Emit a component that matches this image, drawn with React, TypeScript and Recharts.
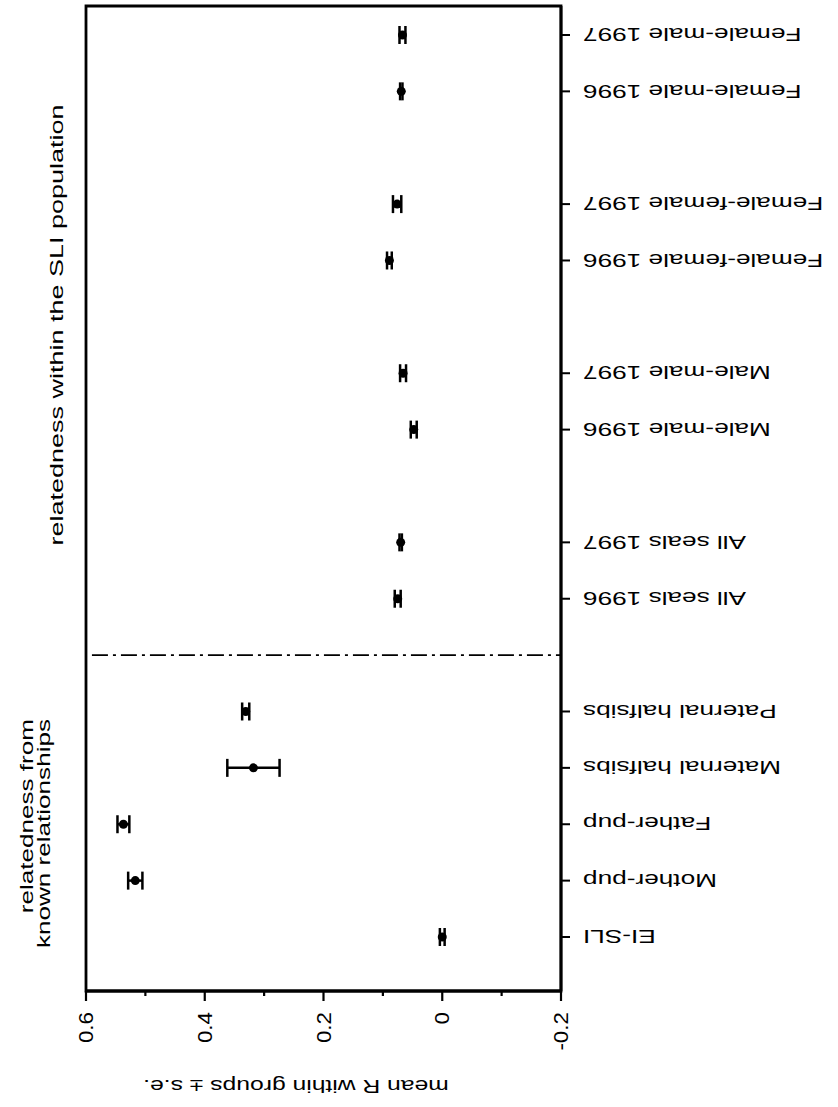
import React from 'react';
import { ScatterChart, Scatter, XAxis, YAxis, ErrorBar, ReferenceLine, ReferenceArea } from 'recharts';

// Categories from top to bottom ("" = empty slot; slot 11 holds the dash-dot divider)
const categories: string[] = [
  'Female-male 1997', 'Female-male 1996', '',
  'Female-female 1997', 'Female-female 1996', '',
  'Male-male 1997', 'Male-male 1996', '',
  'All seals 1997', 'All seals 1996', '',
  'Paternal halfsibs', 'Maternal halfsibs', 'Father-pup', 'Mother-pup', 'EI-SLI',
];
const meanR: (number | null)[] = [
  0.067, 0.069, null,
  0.076, 0.089, null,
  0.066, 0.048, null,
  0.070, 0.075, null,
  0.331, 0.318, 0.537, 0.517, 0.0,
];
const seR: (number | null)[] = [
  0.005, 0.002, null,
  0.007, 0.004, null,
  0.005, 0.005, null,
  0.002, 0.005, null,
  0.006, 0.044, 0.010, 0.012, 0.004,
];
const separatorIndex = 11;
const xMajorTicks = [0.6, 0.4, 0.2, 0, -0.2];
const xMajorLabels = ['0.6', '0.4', '0.2', '0', '-0.2'];
const xMinorTicks = [0.5, 0.3, 0.1, -0.1];
const axisTitle = 'mean R within groups \u00b1 s.e.';
const noteSLI = 'relatedness within the SLI population';
const noteKnown = ['relatedness from', 'known relationships'];

const data = categories
  .map((c, i) => ({ pos: i, name: c, mean: meanR[i], err: seR[i] }))
  .filter((d) => d.mean !== null);

const FONT = '"Liberation Sans", Arial, Helvetica, sans-serif';
const Y_DOMAIN: [number, number] = [-0.514, 16.958];

const CatTick = (props: any) => {
  const { x, y, payload } = props;
  const label = categories[payload.value];
  if (!label) return null;
  return (
    <g>
      <line x1={x} y1={y} x2={x + 9} y2={y} stroke="#000" strokeWidth={2} />
      <text
        transform={`translate(${x + 22},${y}) rotate(180) scale(1.38,1)`}
        textAnchor="end"
        dy="0.36em"
        fontSize={19}
        fontFamily={FONT}
        fill="#000"
      >
        {label}
      </text>
    </g>
  );
};

const ValTick = (props: any) => {
  const { x, y, payload } = props;
  const v = payload.value;
  const mi = xMajorTicks.indexOf(v);
  const major = mi >= 0;
  return (
    <g>
      <line x1={x} y1={y} x2={x} y2={y + (major ? 10 : 5)} stroke="#000" strokeWidth={2.2} />
      {major && (
        <text
          transform={`translate(${x},${y + 21}) rotate(-90) scale(1.12,1)`}
          textAnchor="end"
          dy="0.36em"
          fontSize={20}
          fontFamily={FONT}
          fill="#000"
        >
          {xMajorLabels[mi]}
        </text>
      )}
    </g>
  );
};

const Dot = (props: any) => {
  const { cx, cy } = props;
  return <circle cx={cx} cy={cy} r={4.5} fill="#000" />;
};

export default function App() {
  const allTicks = [...xMajorTicks, ...xMinorTicks].sort((a, b) => b - a);
  const catTicks = categories.map((_, i) => i);
  return (
    <div style={{ position: 'absolute', left: 0, top: 0, width: 838, height: 1107, background: '#fff' }}>
      <ScatterChart
        width={838}
        height={1107}
        margin={{ top: 6, left: 86, right: 0, bottom: 0 }}
      >
        <XAxis
          type="number"
          dataKey="mean"
          domain={[-0.2, 0.6]}
          reversed
          ticks={allTicks}
          interval={0}
          tick={<ValTick />}
          tickLine={false}
          tickSize={0}
          tickMargin={0}
          height={116}
          axisLine={{ stroke: '#000', strokeWidth: 2.8 }}
          allowDataOverflow
        />
        <YAxis
          type="number"
          dataKey="pos"
          orientation="right"
          domain={Y_DOMAIN}
          reversed
          ticks={catTicks}
          interval={0}
          tick={<CatTick />}
          tickLine={false}
          tickSize={0}
          tickMargin={0}
          width={277}
          axisLine={{ stroke: '#000', strokeWidth: 2.8 }}
          allowDataOverflow
        />
        <ReferenceArea
          x1={0.6}
          x2={-0.2}
          y1={Y_DOMAIN[0]}
          y2={Y_DOMAIN[1]}
          fill="none"
          fillOpacity={0}
          stroke="#000"
          strokeWidth={2.8}
          ifOverflow="visible"
        />
        <ReferenceLine
          segment={[{ x: 0.59, y: separatorIndex }, { x: -0.2, y: separatorIndex }]}
          stroke="#000"
          strokeWidth={1.8}
          strokeDasharray="16 5 3 5"
          ifOverflow="visible"
        />
        <Scatter data={data} shape={<Dot />} isAnimationActive={false} fill="#000">
          <ErrorBar dataKey="err" direction="x" width={9} stroke="#000" strokeWidth={2.5} />
        </Scatter>
      </ScatterChart>
      <svg
        width={838}
        height={1107}
        style={{ position: 'absolute', left: 0, top: 0, pointerEvents: 'none' }}
      >
        <text
          transform="translate(296,1087) rotate(180) scale(1.3,1)"
          textAnchor="middle"
          dy="0.36em"
          fontSize={19}
          fontFamily={FONT}
          fill="#000"
        >
          {axisTitle}
        </text>
        <text
          transform="translate(63,325) rotate(-90) scale(1.42,1)"
          textAnchor="middle"
          fontSize={19}
          fontFamily={FONT}
          fill="#000"
        >
          {noteSLI}
        </text>
        <text
          transform="translate(33,719) rotate(-90) scale(1.45,1)"
          textAnchor="end"
          fontSize={18}
          fontFamily={FONT}
          fill="#000"
        >
          {noteKnown[0]}
        </text>
        <text
          transform="translate(50,719) rotate(-90) scale(1.45,1)"
          textAnchor="end"
          fontSize={18}
          fontFamily={FONT}
          fill="#000"
        >
          {noteKnown[1]}
        </text>
      </svg>
    </div>
  );
}
